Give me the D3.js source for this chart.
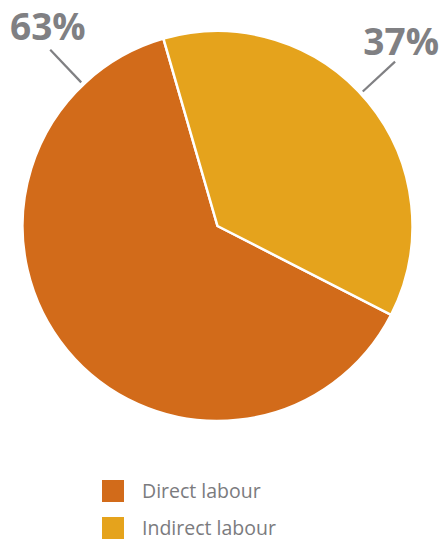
<!DOCTYPE html>
<html>
<head>
<meta charset="utf-8">
<script src="https://cdn.jsdelivr.net/npm/d3@7/dist/d3.min.js"></script>
<style>
  html, body { margin: 0; padding: 0; background: #fff; }
  svg { display: block; }
</style>
</head>
<body>
<script>
// Labour split
const categories = ["Direct labour", "Indirect labour"];
const values = [63, 37];
const labels = ["63%", "37%"];
const colors = ["#D26B1A", "#E5A31C"];

const width = 442, height = 541;
const cx = 217.5, cy = 226, radius = 195;

const svg = d3.select("body").append("svg")
  .attr("width", width)
  .attr("height", height);

const data = categories.map((c, i) => ({ name: c, value: values[i], label: labels[i], color: colors[i] }));

const startDeg = 117.1;
const pie = d3.pie()
  .sort(null)
  .value(d => d.value)
  .startAngle(startDeg * Math.PI / 180)
  .endAngle(startDeg * Math.PI / 180 + 2 * Math.PI);

const arc = d3.arc().innerRadius(0).outerRadius(radius);

const g = svg.append("g").attr("transform", `translate(${cx},${cy})`);

const arcs = pie(data);

g.selectAll("path.slice")
  .data(arcs)
  .join("path")
  .attr("class", "slice")
  .attr("d", arc)
  .attr("fill", d => d.data.color)
  .attr("stroke", "#fff")
  .attr("stroke-width", 2.5)
  .attr("stroke-linejoin", "miter");

// Leader lines and percentage labels
const leader = [
  { deg: -43.5, r0: 198, r1: 243, tx: 10, ty: 40, anchor: "start" },   // Direct
  { deg: 47.2, r0: 198, r1: 242, tx: 439, ty: 55, anchor: "end" }      // Indirect
];

arcs.forEach((a, i) => {
  const L = leader[i];
  const t = L.deg * Math.PI / 180;
  g.append("line")
    .attr("x1", Math.sin(t) * L.r0)
    .attr("y1", -Math.cos(t) * L.r0)
    .attr("x2", Math.sin(t) * L.r1)
    .attr("y2", -Math.cos(t) * L.r1)
    .attr("stroke", "#808083")
    .attr("stroke-width", 2.2);
  svg.append("text")
    .attr("x", L.tx)
    .attr("y", L.ty)
    .attr("text-anchor", L.anchor)
    .attr("font-family", "'Open Sans', sans-serif")
    .attr("font-weight", 700)
    .attr("font-size", 37)
    .attr("fill", "#808083")
    .text(a.data.label);
});

// Legend
const legend = svg.append("g").attr("transform", "translate(102,480)");
const item = legend.selectAll("g.item")
  .data(data)
  .join("g")
  .attr("class", "item")
  .attr("transform", (d, i) => `translate(0,${i * 37})`);

item.append("rect")
  .attr("width", 22)
  .attr("height", 22)
  .attr("fill", d => d.color);

item.append("text")
  .attr("x", 40)
  .attr("y", 18)
  .attr("font-family", "'Open Sans', sans-serif")
  .attr("font-size", 19.5)
  .attr("fill", "#7b7b7e")
  .text(d => d.name);
</script>
</body>
</html>
